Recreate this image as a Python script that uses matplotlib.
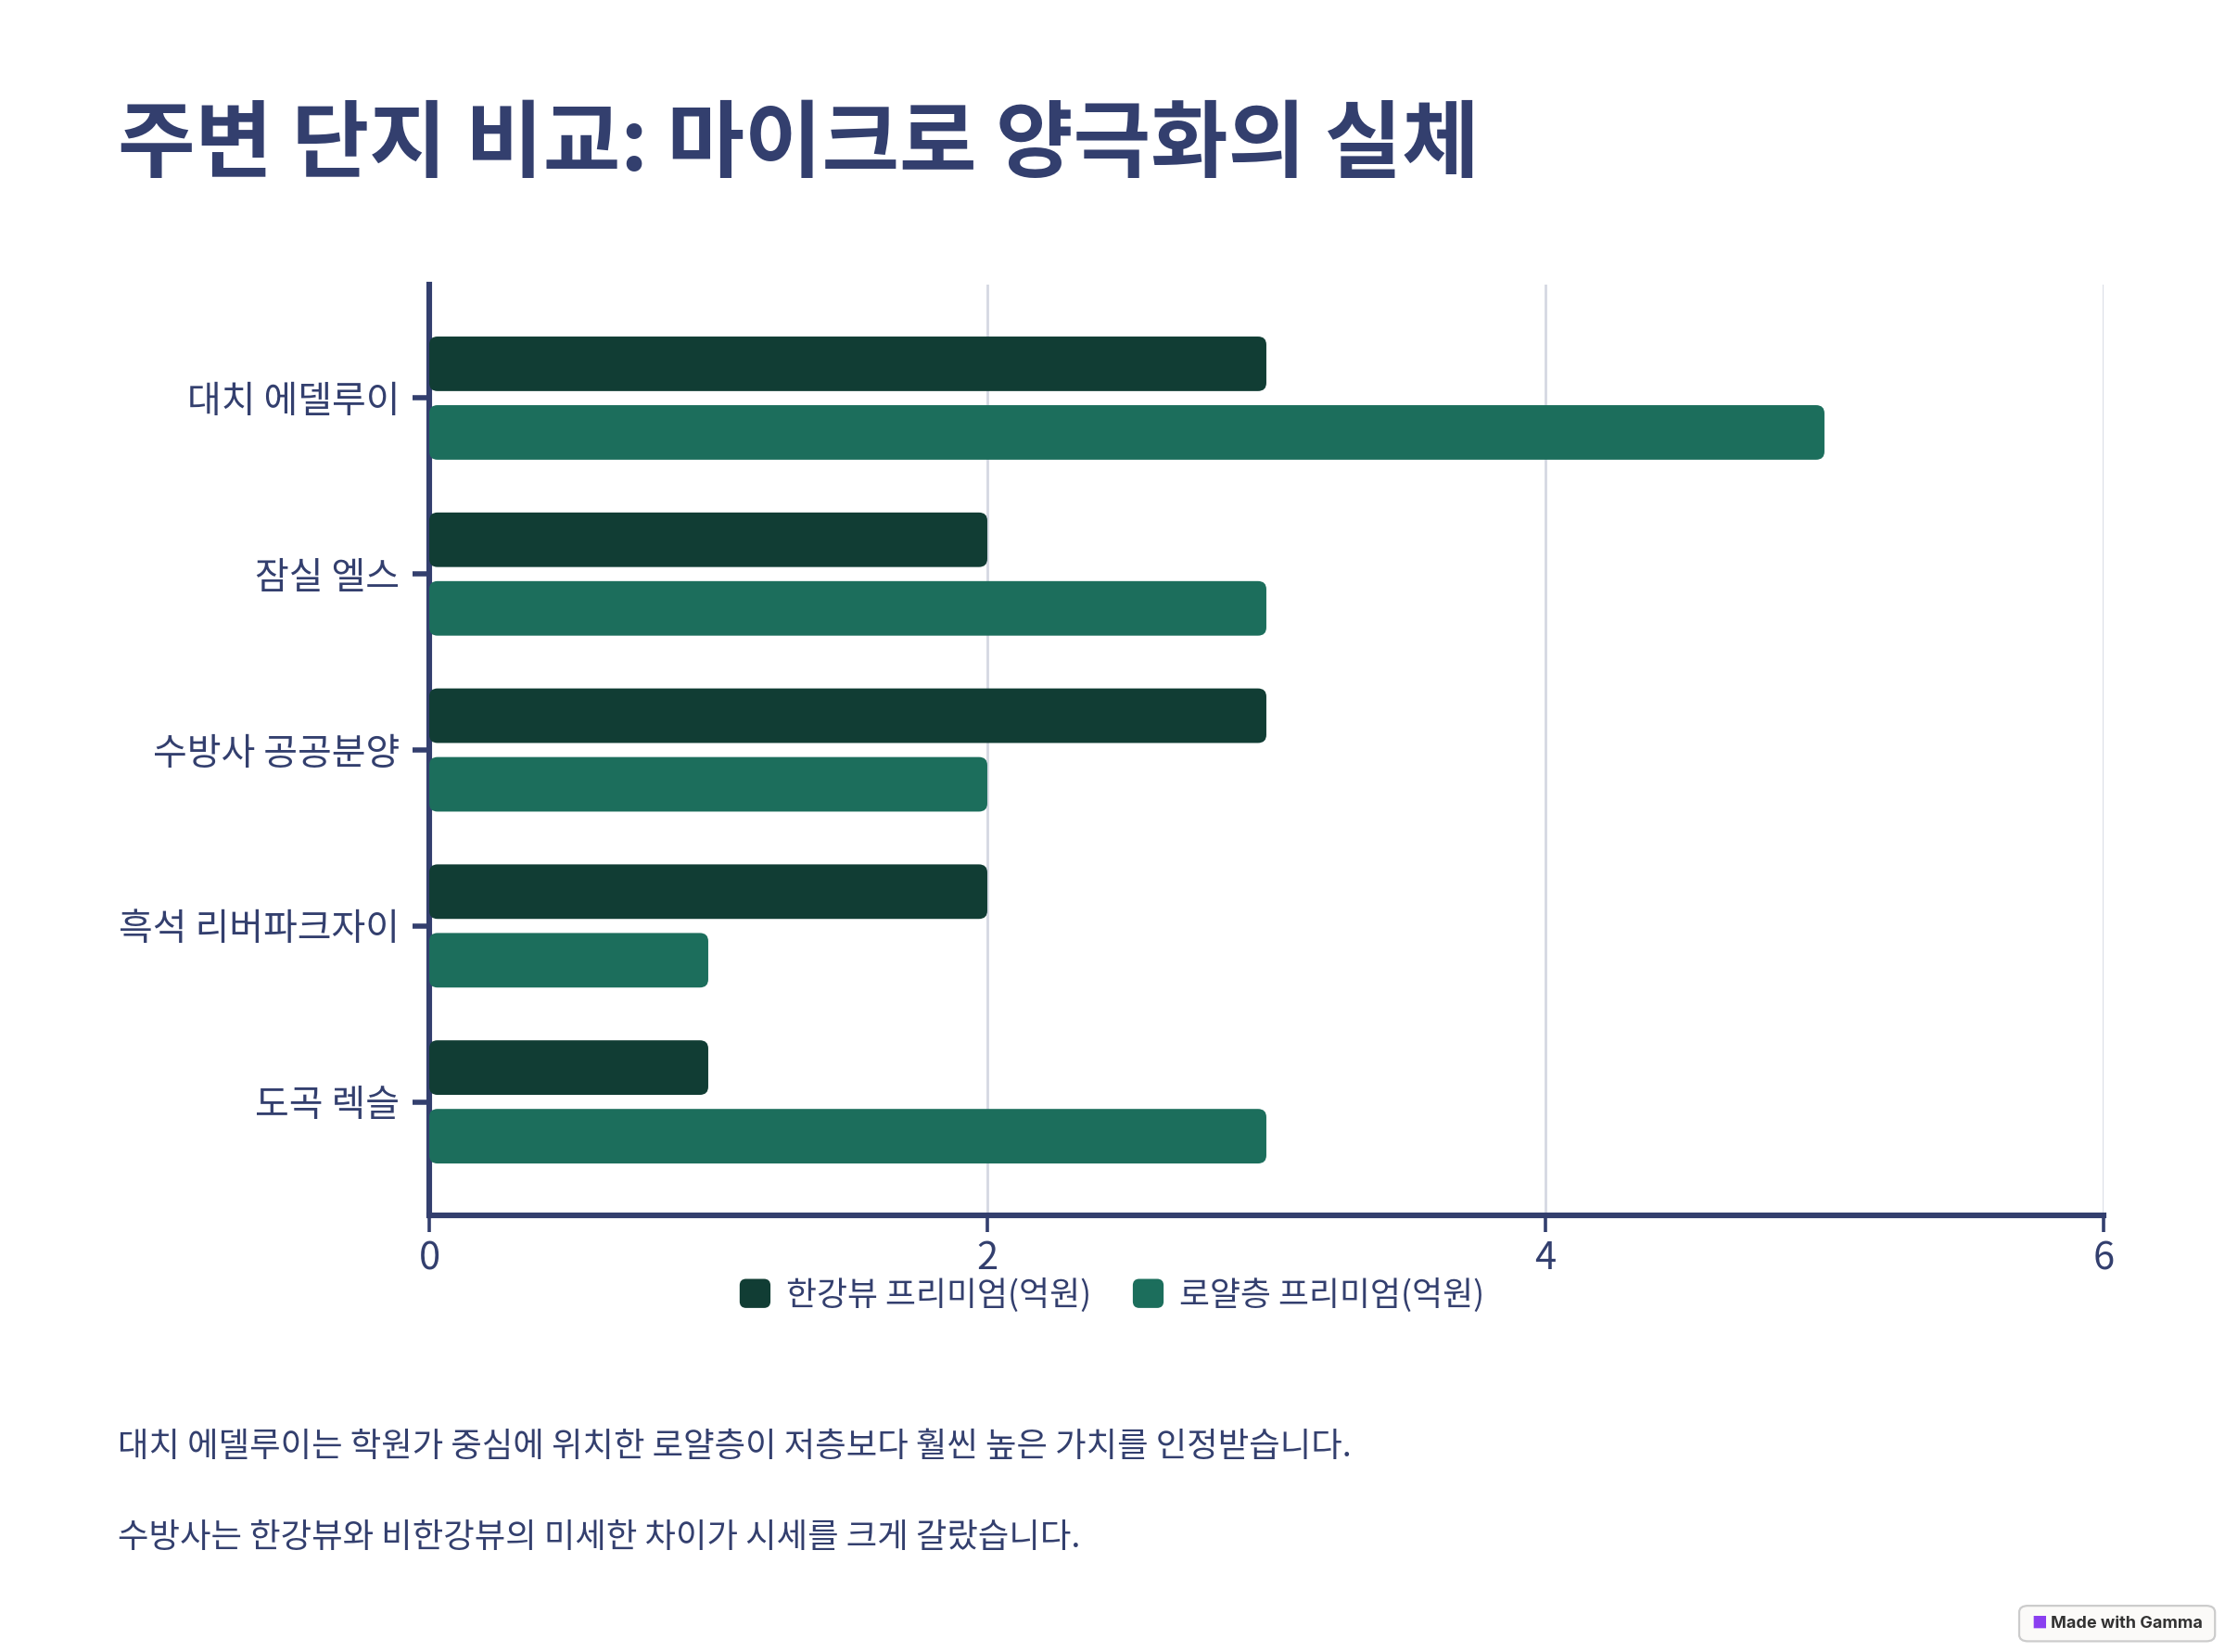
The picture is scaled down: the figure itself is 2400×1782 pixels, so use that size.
import matplotlib
matplotlib.use("Agg")
import matplotlib.pyplot as plt
from matplotlib.patches import FancyBboxPatch, Patch
from matplotlib.legend_handler import HandlerPatch
import numpy as np

plt.rcParams['font.family'] = ['Noto Sans CJK KR', 'DejaVu Sans']

# data
complexes = ["대치 에델루이", "잠실 엘스", "수방사 공공분양", "흑석 리버파크자이", "도곡 렉슬"]
river_view = [3, 2, 3, 2, 1]
royal_floor = [5, 3, 2, 1, 3]
series_names = ["한강뷰 프리미엄(억원)", "로얄층 프리미엄(억원)"]
x_ticks = [0, 2, 4, 6]
notes = ["대치 에델루이는 학원가 중심에 위치한 로얄층이 저층보다 훨씬 높은 가치를 인정받습니다.",
         "수방사는 한강뷰와 비한강뷰의 미세한 차이가 시세를 크게 갈랐습니다."]

navy = "#333f6e"
dark = "#113d34"
teal = "#1c6e5c"

fig = plt.figure(figsize=(12, 8.91), dpi=200)
ax = fig.add_axes([0.1929, 0.2643, 0.7525, 0.5634])

y = np.arange(len(complexes))
bh = 0.31
b1 = ax.barh(y - 0.195, river_view, height=bh, color=dark, zorder=3)
b2 = ax.barh(y + 0.195, royal_floor, height=bh, color=teal, zorder=3)

# swap rectangles for rounded ones
for bars in (b1, b2):
    for r in bars:
        r.set_visible(False)
        p = FancyBboxPatch((r.get_x(), r.get_y()), r.get_width(), r.get_height(),
                           boxstyle="round,pad=0,rounding_size=0.03",
                           mutation_aspect=1.55, fc=r.get_facecolor(), ec="none", zorder=3)
        ax.add_patch(p)

ax.set_xlim(0, 6)
ax.set_ylim(4.645, -0.645)
ax.set_xticks(x_ticks)
ax.set_xticklabels([str(t) for t in x_ticks])
ax.set_yticks(y)
ax.set_yticklabels(complexes)

ax.grid(axis="x", color="#d5d8e2", lw=1.0, zorder=0)
ax.set_axisbelow(True)
for s in ("top", "right"):
    ax.spines[s].set_visible(False)
for s in ("left", "bottom"):
    ax.spines[s].set_color(navy)
    ax.spines[s].set_linewidth(2.2)
ax.tick_params(axis="y", colors=navy, labelsize=14.4, length=6.5, width=2.0, pad=5)
ax.tick_params(axis="x", colors=navy, labelsize=15, length=6.5, width=1.3, pad=3)


def rounded_handle(legend, orig_handle, xdescent, ydescent, width, height, fontsize):
    return FancyBboxPatch((-xdescent, -ydescent), width, height,
                          boxstyle="round,pad=0,rounding_size=2")


handles = [Patch(color=dark, label=series_names[0]), Patch(color=teal, label=series_names[1])]
leg = fig.legend(handles=handles, loc="center", bbox_to_anchor=(0.5, 0.216), ncol=2,
                 frameon=False, fontsize=12.9, handlelength=0.85, handleheight=0.85,
                 handletextpad=0.5, columnspacing=1.3, labelcolor=navy,
                 handler_map={Patch: HandlerPatch(patch_func=rounded_handle)})

fig.text(0.053, 0.912, "주변 단지 비교: 마이크로 양극화의 실체", fontsize=32.7,
         fontweight="bold", color=navy, va="center", ha="left")
fig.text(0.053, 1 - 1561 / 1782, notes[0], fontsize=13.1, color=navy, va="center")
fig.text(0.053, 1 - 1659 / 1782, notes[1], fontsize=13.1, color=navy, va="center")

# gamma badge
badge = FancyBboxPatch((0.9075, 0.0065), 0.088, 0.0215, boxstyle="round,pad=0,rounding_size=0.004",
                       transform=fig.transFigure, fc="#fbfaf8", ec="#cccccc", lw=0.8)
fig.patches.append(badge)
fig.text(0.9165, 0.0172, "■", fontsize=6, color="#8a3ff0", va="center", ha="center")
fig.text(0.9215, 0.0172, "Made with Gamma", fontsize=6.5, color="#333333", va="center",
         ha="left", fontweight="bold", family=["Inter", "DejaVu Sans"])

fig.savefig("out.png", dpi=200)
